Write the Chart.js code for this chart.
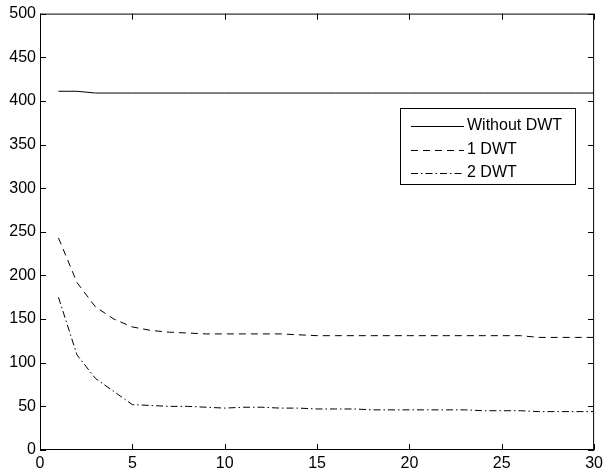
<!DOCTYPE html>
<html>
<head>
<meta charset="utf-8">
<script src="https://cdn.jsdelivr.net/npm/chart.js@4"></script>
<style>
  html, body { margin: 0; padding: 0; background: #fff; }
  #wrap { width: 607px; height: 475px; position: relative; }
</style>
</head>
<body>
<div id="wrap"><canvas id="chart" width="607" height="475"></canvas></div>
<script>
// Datos
const iterations = [1,2,3,4,5,6,7,8,9,10,11,12,13,14,15,16,17,18,19,20,21,22,23,24,25,26,27,28,29,30];
const withoutDwt = [411,411,409,409,409,409,409,409,409,409,409,409,409,409,409,409,409,409,409,409,409,409,409,409,409,409,409,409,409,409];
const oneDwt = [243,192,164,150,141,137,135,134,133,133,133,133,133,132,131,131,131,131,131,131,131,131,131,131,131,131,129,129,129,129];
const twoDwt = [175,109,82,67,52,51,50,50,49,48,49,49,48,48,47,47,47,46,46,46,46,46,46,45,45,45,44,44,44,44];
const seriesNames = ['Without DWT', '1 DWT', '2 DWT'];
const xTicks = [0, 5, 10, 15, 20, 25, 30];
const yTicks = [0, 50, 100, 150, 200, 250, 300, 350, 400, 450, 500];

const FONT = 'Liberation Sans, Arial, Helvetica, sans-serif';
const dashes = [[], [7, 5], [7, 3, 1.5, 3]];

function toPoints(values) {
    return iterations.map((x, i) => ({ x: x, y: values[i] }));
}

// Marco con marcas hacia dentro (estilo MATLAB) y leyenda en el área
const frameTicks = {
    id: 'frameTicks',
    afterDraw(chart) {
        const ctx = chart.ctx;
        const a = chart.chartArea;
        const xs = chart.scales.x, ys = chart.scales.y;
        ctx.save();
        ctx.strokeStyle = '#000';
        ctx.lineWidth = 1;
        ctx.strokeRect(a.left + 0.5, a.top + 0.5, a.right - a.left - 1, a.bottom - a.top - 1);
        ctx.beginPath();
        xTicks.forEach(v => {
            const px = Math.round(xs.getPixelForValue(v)) + 0.5;
            ctx.moveTo(px, a.bottom); ctx.lineTo(px, a.bottom - 6);
            ctx.moveTo(px, a.top); ctx.lineTo(px, a.top + 6);
        });
        yTicks.forEach(v => {
            const py = Math.round(ys.getPixelForValue(v)) + 0.5;
            ctx.moveTo(a.left, py); ctx.lineTo(a.left + 6, py);
            ctx.moveTo(a.right, py); ctx.lineTo(a.right - 6, py);
        });
        ctx.stroke();

        // Leyenda
        const bx = 400, by = 108, bw = 175, bh = 76;
        ctx.fillStyle = '#fff';
        ctx.fillRect(bx, by, bw, bh);
        ctx.strokeRect(bx + 0.5, by + 0.5, bw, bh);
        const rows = [126, 150, 173];
        ctx.font = '16px ' + FONT;
        ctx.textBaseline = 'middle';
        seriesNames.forEach((name, i) => {
            ctx.beginPath();
            ctx.setLineDash(dashes[i]);
            ctx.moveTo(411, rows[i] + 0.5);
            ctx.lineTo(464, rows[i] + 0.5);
            ctx.stroke();
            ctx.setLineDash([]);
            ctx.fillStyle = '#000';
            ctx.fillText(name, 467, rows[i]);
        });
        ctx.restore();
    }
};

const ctx = document.getElementById('chart').getContext('2d');
new Chart(ctx, {
    type: 'line',
    data: {
        datasets: [withoutDwt, oneDwt, twoDwt].map((vals, i) => ({
            label: seriesNames[i],
            data: toPoints(vals),
            borderColor: '#000',
            borderWidth: 1,
            borderDash: dashes[i],
            pointRadius: 0,
            tension: 0,
            fill: false
        }))
    },
    options: {
        responsive: false,
        animation: false,
        devicePixelRatio: 1,
        layout: { padding: { top: 11, right: 9, left: 0, bottom: 0 } },
        plugins: { legend: { display: false }, tooltip: { enabled: false } },
        scales: {
            x: {
                type: 'linear', min: 0, max: 30,
                grid: { display: false, drawTicks: false },
                border: { display: false },
                afterFit: s => { s.height = 25; },
                afterBuildTicks: s => { s.ticks = xTicks.map(v => ({ value: v })); },
                ticks: { color: '#000', font: { family: FONT, size: 16 }, padding: 4, maxRotation: 0 }
            },
            y: {
                min: 0, max: 500,
                grid: { display: false, drawTicks: false },
                border: { display: false },
                afterFit: s => { s.width = 40; },
                afterBuildTicks: s => { s.ticks = yTicks.map(v => ({ value: v })); },
                ticks: { color: '#000', font: { family: FONT, size: 16 }, padding: 4 }
            }
        }
    },
    plugins: [frameTicks]
});
</script>
</body>
</html>
